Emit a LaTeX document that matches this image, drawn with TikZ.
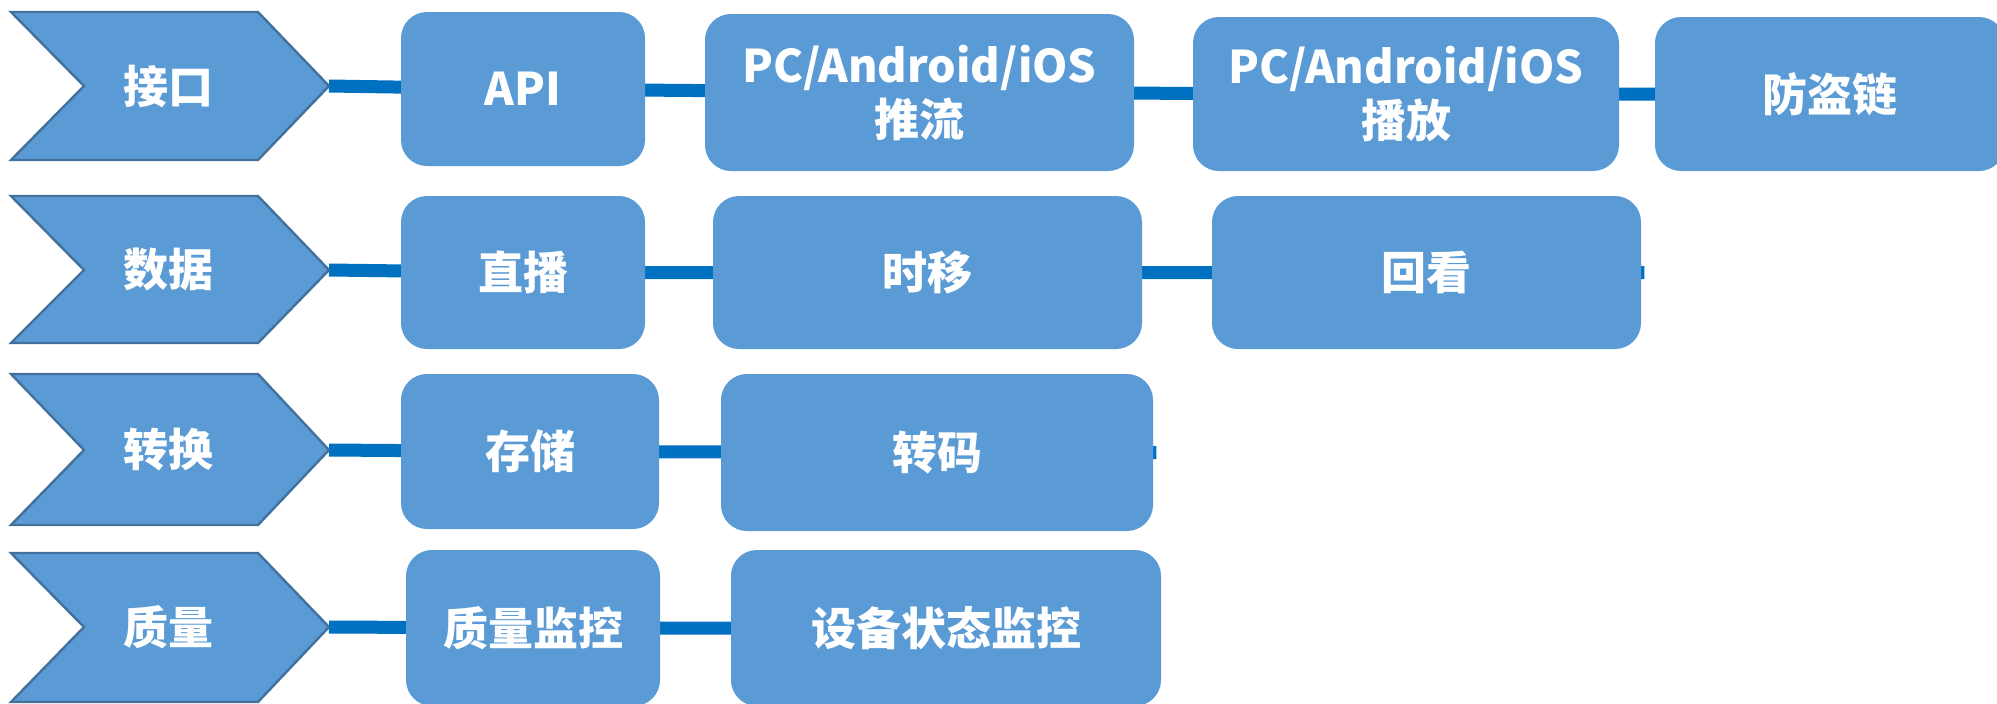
\documentclass[tikz,border=0pt]{standalone}
\usepackage{fontspec}
\newfontfamily\cjk{Noto Sans CJK SC}
\usetikzlibrary{backgrounds}
\definecolor{boxblue}{HTML}{5B9BD5}
\definecolor{chevline}{HTML}{41719C}
\definecolor{linkblue}{HTML}{0070C0}

\begin{document}
\begin{tikzpicture}[x=0.5pt, y=-0.5pt,
        chev/.style={fill=boxblue, draw=chevline, line width=1.2pt, line join=miter},
        rowlabel/.style={text=white, font=\cjk\bfseries\fontsize{22.5}{27}\selectfont},
        box/.style={fill=boxblue, rounded corners=13pt, inner sep=0pt, align=center,
            text=white, font=\cjk\bfseries\fontsize{22.5}{27}\selectfont},
        link/.style={draw=linkblue, line width=6.5pt}]
    \useasboundingbox (0, 0) rectangle (1997, 703);

    \draw [chev] (11, 12) -- (258, 12) -- (329, 86) -- (258, 160) -- (11, 160) -- (84, 86) -- cycle;
    \node [rowlabel] (jiekou) at (168, 86) {接口};
    \coordinate (jiekou-tip) at (329, 86);

    \draw [chev] (11, 196) -- (258, 196) -- (329, 270) -- (258, 343) -- (11, 343) -- (84, 270) -- cycle;
    \node [rowlabel] (shuju) at (168, 270) {数据};
    \coordinate (shuju-tip) at (329, 270);

    \draw [chev] (11, 374) -- (258, 374) -- (329, 450) -- (258, 525) -- (11, 525) -- (84, 450) -- cycle;
    \node [rowlabel] (zhuanhuan) at (168, 450) {转换};
    \coordinate (zhuanhuan-tip) at (329, 450);

    \draw [chev] (11, 553) -- (258, 553) -- (329, 627) -- (258, 702) -- (11, 702) -- (84, 627) -- cycle;
    \node [rowlabel] (zhiliang) at (168, 627) {质量};
    \coordinate (zhiliang-tip) at (329, 627);

    \node [box, minimum width=122pt, minimum height=77pt] (api) at (523, 89) {API};
    \node [box, minimum width=214.5pt, minimum height=78.5pt] (tuiliu) at (919.5, 92.5) {PC/Android/iOS\\推流};
    \node [box, minimum width=213pt, minimum height=77pt] (bofang) at (1406, 94) {PC/Android/iOS\\播放};
    \node [box, minimum width=175pt, minimum height=77pt] (fangdao) at (1830, 94) {防盗链};

    \node [box, minimum width=122pt, minimum height=76.5pt] (zhibo) at (523, 272.5) {直播};
    \node [box, minimum width=214.5pt, minimum height=76.5pt] (shiyi) at (927.5, 272.5) {时移};
    \node [box, minimum width=214.5pt, minimum height=76.5pt] (huikan) at (1426.5, 272.5) {回看};

    \node [box, minimum width=129pt, minimum height=77.5pt] (cunchu) at (530, 451.5) {存储};
    \node [box, minimum width=216pt, minimum height=78.5pt] (zhuanma) at (937, 452.5) {转码};

    \node [box, minimum width=127pt, minimum height=78pt] (jiankong) at (533, 628) {质量监控};
    \node [box, minimum width=215pt, minimum height=78pt] (shebei) at (946, 628) {设备状态监控};

    \coordinate (huikan-end) at ([xshift=1.5pt]huikan.east);
    \coordinate (zhuanma-end) at ([xshift=1.5pt]zhuanma.east);

    \begin{scope}[on background layer]
        \fill [white] (0, 0) rectangle (1997, 703);
        \draw [link] (jiekou-tip) -- (api.center) -- (tuiliu.center) -- (bofang.center) -- (fangdao.center);
        \draw [link] (shuju-tip) -- (zhibo.center) -- (shiyi.center) -- (huikan.center) -- (huikan-end);
        \draw [link] (zhuanhuan-tip) -- (cunchu.center) -- (zhuanma.center) -- (zhuanma-end);
        \draw [link] (zhiliang-tip) -- (jiankong.center) -- (shebei.center);
    \end{scope}
\end{tikzpicture}
\end{document}
